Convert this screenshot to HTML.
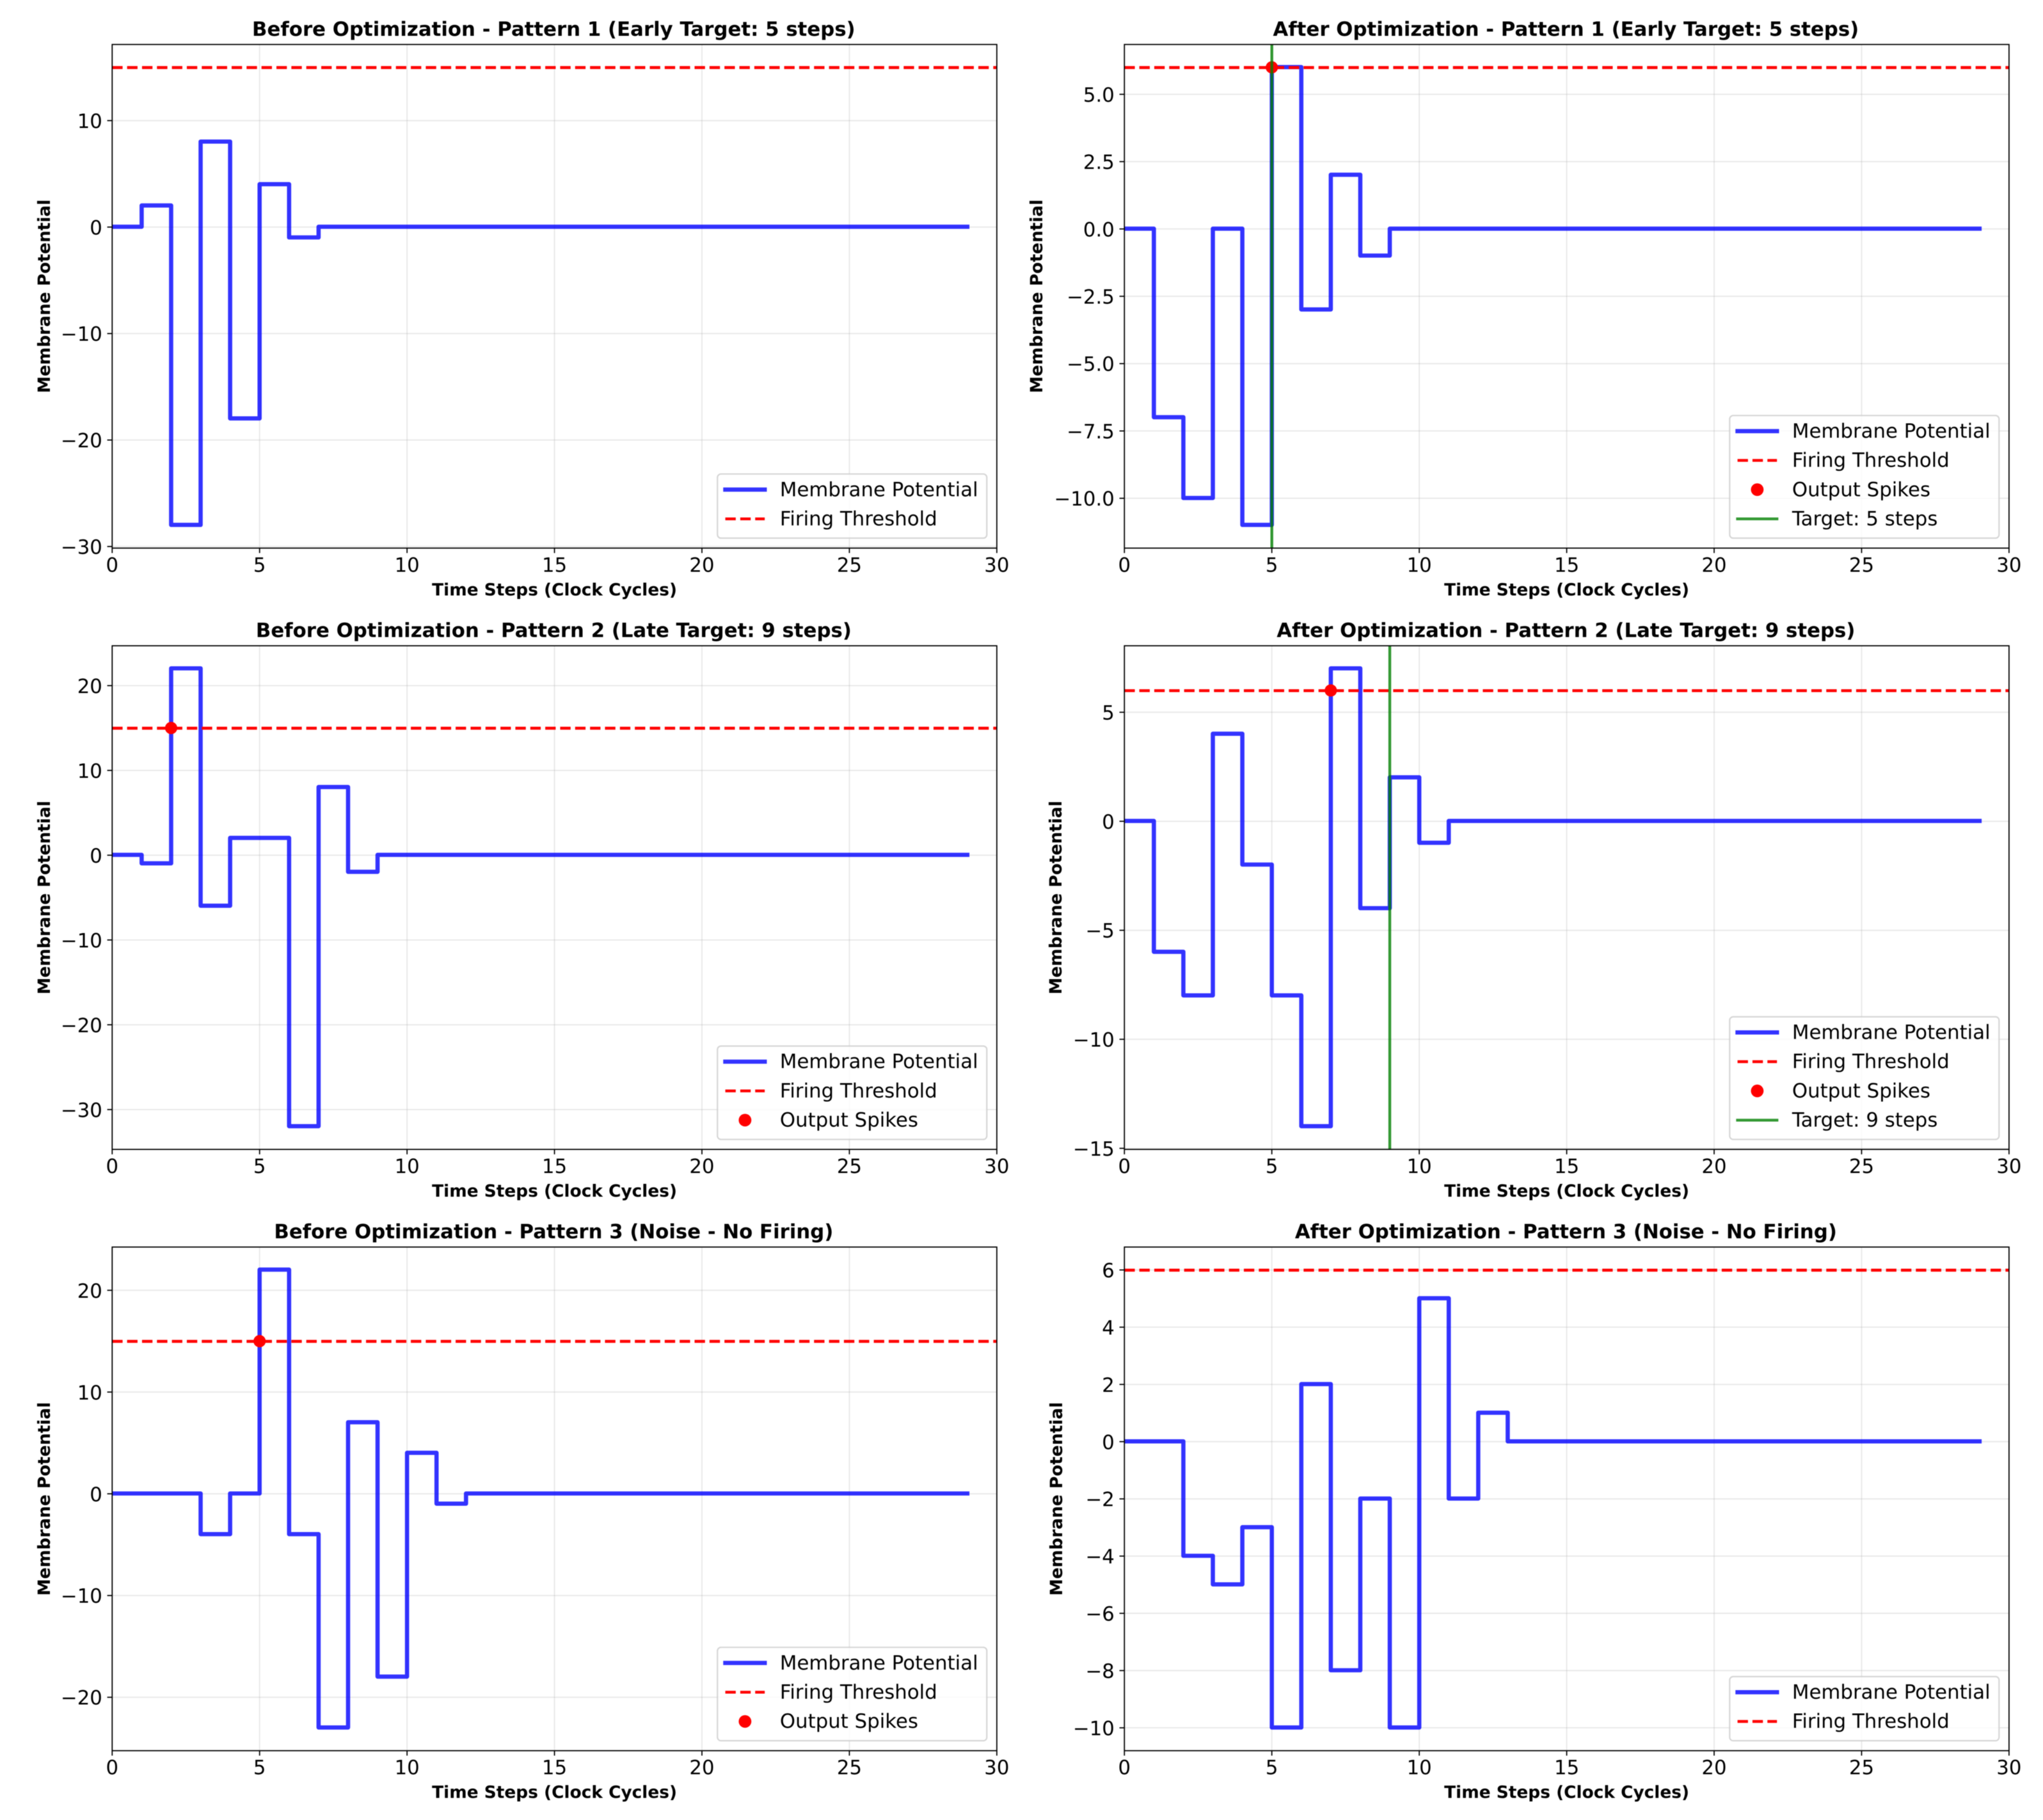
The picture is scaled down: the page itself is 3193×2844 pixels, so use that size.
<!DOCTYPE html>
<html lang="en">
<head>
<meta charset="utf-8">
<title>Membrane Potential Before and After Optimization</title>
<style>
html, body { margin: 0; padding: 0; background: #ffffff; }
svg { display: block; font-family: "DejaVu Sans", "Liberation Sans", sans-serif; text-rendering: geometricPrecision; filter: blur(0.5px); }
</style>
</head>
<body>
<svg id="figure" xmlns="http://www.w3.org/2000/svg" width="3193" height="2844" viewBox="0 0 3193 2844">
  <rect x="0" y="0" width="3193" height="2844" fill="#ffffff"></rect>
</svg>
<script>
const timeSteps = [0,1,2,3,4,5,6,7,8,9,10,11,12,13,14,15,16,17,18,19,20,21,22,23,24,25,26,27,28,29];
const xTicks = [0,5,10,15,20,25,30];

const p1BeforeValues = [0,2,-28,8,-18,4,-1,0,0,0,0,0,0,0,0,0,0,0,0,0,0,0,0,0,0,0,0,0,0,0];
const p1AfterValues  = [0,-7,-10,0,-11,6,-3,2,-1,0,0,0,0,0,0,0,0,0,0,0,0,0,0,0,0,0,0,0,0,0];
const p2BeforeValues = [0,-1,22,-6,2,2,-32,8,-2,0,0,0,0,0,0,0,0,0,0,0,0,0,0,0,0,0,0,0,0,0];
const p2AfterValues  = [0,-6,-8,4,-2,-8,-14,7,-4,2,-1,0,0,0,0,0,0,0,0,0,0,0,0,0,0,0,0,0,0,0];
const p3BeforeValues = [0,0,0,-4,0,22,-4,-23,7,-18,4,-1,0,0,0,0,0,0,0,0,0,0,0,0,0,0,0,0,0,0];
const p3AfterValues  = [0,0,-4,-5,-3,-10,2,-8,-2,-10,5,-2,1,0,0,0,0,0,0,0,0,0,0,0,0,0,0,0,0,0];

const p1BeforeTicks = [-30,-20,-10,0,10];
const p1AfterTicks  = [-10,-7.5,-5,-2.5,0,2.5,5];
const p2BeforeTicks = [-30,-20,-10,0,10,20];
const p2AfterTicks  = [-15,-10,-5,0,5];
const p3BeforeTicks = [-20,-10,0,10,20];
const p3AfterTicks  = [-10,-8,-6,-4,-2,0,2,4,6];

const beforeThreshold = 15;
const afterThreshold = 6;

const p1BeforeSpikes = [];
const p1AfterSpikes  = [5];
const p2BeforeSpikes = [2];
const p2AfterSpikes  = [7];
const p3BeforeSpikes = [5];
const p3AfterSpikes  = [];

const p1AfterTarget = 5;
const p2AfterTarget = 9;

const panels = [
  { slug:'p1-before', title:'Before Optimization - Pattern 1 (Early Target: 5 steps)', values:p1BeforeValues, ticks:p1BeforeTicks, decimals:0, threshold:beforeThreshold, spikes:p1BeforeSpikes, target:null, col:0, row:0, labelX:78 },
  { slug:'p1-after', title:'After Optimization - Pattern 1 (Early Target: 5 steps)', values:p1AfterValues, ticks:p1AfterTicks, decimals:1, threshold:afterThreshold, spikes:p1AfterSpikes, target:p1AfterTarget, col:1, row:0, labelX:1629 },
  { slug:'p2-before', title:'Before Optimization - Pattern 2 (Late Target: 9 steps)', values:p2BeforeValues, ticks:p2BeforeTicks, decimals:0, threshold:beforeThreshold, spikes:p2BeforeSpikes, target:null, col:0, row:1, labelX:78 },
  { slug:'p2-after', title:'After Optimization - Pattern 2 (Late Target: 9 steps)', values:p2AfterValues, ticks:p2AfterTicks, decimals:0, threshold:afterThreshold, spikes:p2AfterSpikes, target:p2AfterTarget, col:1, row:1, labelX:1659 },
  { slug:'p3-before', title:'Before Optimization - Pattern 3 (Noise - No Firing)', values:p3BeforeValues, ticks:p3BeforeTicks, decimals:0, threshold:beforeThreshold, spikes:p3BeforeSpikes, target:null, col:0, row:2, labelX:78 },
  { slug:'p3-after', title:'After Optimization - Pattern 3 (Noise - No Firing)', values:p3AfterValues, ticks:p3AfterTicks, decimals:0, threshold:afterThreshold, spikes:p3AfterSpikes, target:null, col:1, row:2, labelX:1660 }
];

const NS = 'http://www.w3.org/2000/svg';
const figure = document.getElementById('figure');
const colLeft = [175.3, 1757.3];
const rowTop = [69.5, 1009.1, 1948.7];
const axW = 1382.6;
const axH = 787;
const xMax = 30;

function svgEl(tag, attrs, parent) {
  const node = document.createElementNS(NS, tag);
  for (const key in attrs) node.setAttribute(key, attrs[key]);
  parent.appendChild(node);
  return node;
}

function fmtTick(v, decimals) {
  const s = Math.abs(v).toFixed(decimals);
  return (v < 0 ? '\u2212' : '') + s;
}

function legendHandle(kind, x0, y, parent) {
  const x1 = x0 + 61.6;
  if (kind === 'line') {
    const el = svgEl('line', { x1:x0, x2:x1, y1:y, y2:y, stroke:'#0000ff', 'stroke-opacity':0.8, 'stroke-width':6.6, 'stroke-linecap':'square' }, parent);
    
    
  } else if (kind === 'dash') {
    const el = svgEl('line', { x1:x0, x2:x1, y1:y, y2:y, stroke:'#ff0000', 'stroke-width':4.4, 'stroke-dasharray':'16.3 7.04' }, parent);
    
    
  } else if (kind === 'dot') {
    const el = svgEl('circle', { cx:x0 + 30.8, cy:y, r:9.9, fill:'#ff0000' }, parent);
    
    
  } else {
    const el = svgEl('line', { x1:x0, x2:x1, y1:y, y2:y, stroke:'#008000', 'stroke-opacity':0.8, 'stroke-width':4.4, 'stroke-linecap':'square' }, parent);
    
    
  }
}

panels.forEach(function (p) {
  const left = colLeft[p.col];
  const top = rowTop[p.row];
  const right = left + axW;
  const bottom = top + axH;

  const g = svgEl('g', {}, figure);
  
  

  const spikeLevels = p.spikes.map(function () { return p.threshold; });
  const extent = p.values.concat([p.threshold], spikeLevels);
  const lo = Math.min.apply(null, extent);
  const hi = Math.max.apply(null, extent);
  const margin = (hi - lo) * 0.05;
  const yMin = lo - margin;
  const yMax = hi + margin;

  const xScale = function (v) { return left + (v / xMax) * axW; };
  const yScale = function (v) { return bottom - ((v - yMin) / (yMax - yMin)) * axH; };

  const bg = svgEl('rect', { x:left, y:top, width:axW, height:axH, fill:'#ffffff' }, g);
  
  

  xTicks.forEach(function (t) {
    const x = xScale(t);
    const grid = svgEl('line', { x1:x, x2:x, y1:top, y2:bottom, stroke:'#b0b0b0', 'stroke-opacity':0.3, 'stroke-width':1.76 }, g);
    
    
  });
  p.ticks.forEach(function (t) {
    const y = yScale(t);
    const grid = svgEl('line', { x1:left, x2:right, y1:y, y2:y, stroke:'#b0b0b0', 'stroke-opacity':0.3, 'stroke-width':1.76 }, g);
    
    
  });

  let d = '';
  timeSteps.forEach(function (t, i) {
    const x = xScale(t);
    const y = yScale(p.values[i]) - 0.5;
    if (i === 0) {
      d += 'M' + x.toFixed(2) + ' ' + y.toFixed(2);
    } else {
      d += 'H' + x.toFixed(2) + 'V' + y.toFixed(2);
    }
  });
  d += 'h3.3';
  const series = svgEl('path', { d:d, fill:'none', stroke:'#0000ff', 'stroke-opacity':0.8, 'stroke-width':6.6, 'stroke-linejoin':'round', 'stroke-linecap':'butt' }, g);
  
  

  const thr = svgEl('line', { x1:left, x2:right, y1:yScale(p.threshold) + 0.3, y2:yScale(p.threshold) + 0.3, stroke:'#ff0000', 'stroke-width':4.6, 'stroke-dasharray':'16.3 7.04' }, g);
  
  

  p.spikes.forEach(function (s) {
    const dot = svgEl('circle', { cx:xScale(s), cy:yScale(p.threshold), r:9.6, fill:'#ff0000' }, g);
    
    
  });

  if (p.target !== null) {
    const tgt = svgEl('line', { x1:xScale(p.target), x2:xScale(p.target), y1:top, y2:bottom, stroke:'#008000', 'stroke-opacity':0.8, 'stroke-width':4.4 }, g);
    
    
  }

  /* legend */
  const entries = [['line', 'Membrane Potential'], ['dash', 'Firing Threshold']];
  if (p.spikes.length) entries.push(['dot', 'Output Spikes']);
  if (p.target !== null) entries.push(['target', 'Target: ' + p.target + ' steps']);
  const rowGap = 45.7;
  const legH = 8.8 + entries.length * rowGap;
  const legW = 421;
  const legX = right - 15.6 - legW;
  const legY = bottom - 15.6 - legH;
  const legend = svgEl('g', {}, g);
  
  
  const frame = svgEl('rect', { x:legX, y:legY, width:legW, height:legH, rx:5.5, ry:5.5, fill:'#ffffff', 'fill-opacity':0.8, stroke:'#cccccc', 'stroke-opacity':0.8, 'stroke-width':2.2 }, legend);
  
  
  entries.forEach(function (entry, i) {
    const cy = legY + 24.4 + i * rowGap;
    legendHandle(entry[0], legX + 12.3, cy, legend);
    const label = svgEl('text', { x:legX + 97.6, y:cy + 10.2, 'font-size':30.8, fill:'#000000' }, legend);
    
    
    label.textContent = entry[1];
  });

  /* spines */
  const spine = svgEl('rect', { x:left, y:top, width:axW, height:axH, fill:'none', stroke:'#000000', 'stroke-width':1.76 }, g);
  
  

  /* x ticks */
  xTicks.forEach(function (t) {
    const x = xScale(t);
    const tick = svgEl('line', { x1:x, x2:x, y1:bottom, y2:bottom + 7.7, stroke:'#000000', 'stroke-width':1.76 }, g);
    
    
    const lab = svgEl('text', { x:x, y:bottom + 37, 'font-size':30.8, 'text-anchor':'middle', fill:'#000000' }, g);
    
    
    lab.textContent = String(t);
  });

  /* y ticks */
  p.ticks.forEach(function (t) {
    const y = yScale(t);
    const tick = svgEl('line', { x1:left - 7.7, x2:left, y1:y, y2:y, stroke:'#000000', 'stroke-width':1.76 }, g);
    
    
    const lab = svgEl('text', { x:left - 15.4, y:y + 11.5, 'font-size':30.8, 'text-anchor':'end', fill:'#000000' }, g);
    
    
    lab.textContent = fmtTick(t, p.decimals);
  });

  /* titles */
  const title = svgEl('text', { x:(left + right) / 2 - 1.2, y:top - 13.5, 'font-size':30.8, 'font-weight':'bold', 'text-anchor':'middle', fill:'#000000' }, g);
  
  
  title.textContent = p.title;

  const xTitle = svgEl('text', { x:(left + right) / 2, y:bottom + 74, 'font-size':26.4, 'font-weight':'bold', 'text-anchor':'middle', fill:'#000000' }, g);
  
  
  xTitle.textContent = 'Time Steps (Clock Cycles)';

  const cy = (top + bottom) / 2;
  const yTitle = svgEl('text', { x:p.labelX, y:cy, 'font-size':26.4, 'font-weight':'bold', 'text-anchor':'middle', fill:'#000000', transform:'rotate(-90 ' + p.labelX + ' ' + cy + ')' }, g);
  
  
  yTitle.textContent = 'Membrane Potential';
});
</script>
</body>
</html>
